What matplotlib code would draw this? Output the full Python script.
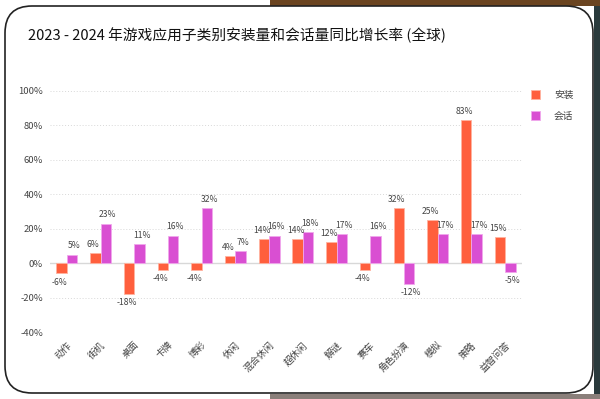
import numpy as np
import matplotlib.pyplot as plt
from matplotlib.patches import FancyBboxPatch, Rectangle

categories = ['动作', '街机', '桌面', '卡牌', '博彩', '休闲', '混合休闲', '超休闲',
              '解谜', '赛车', '角色扮演', '模拟', '策略', '益智问答']
installs = [-6, 6, -18, -4, -4, 4, 14, 14, 12, -4, 32, 25, 83, 15]
sessions = [5, 23, 11, 16, 32, 7, 16, 18, 17, 16, -12, 17, 17, -5]
series_names = ['安装', '会话']
yticks = [-40, -20, 0, 20, 40, 60, 80, 100]

plt.rcParams['font.family'] = ['Noto Sans CJK SC', 'DejaVu Sans']

fig = plt.figure(figsize=(6, 3.99), dpi=100)
fig.patch.set_facecolor('white')

# background bits outside the card
fig.patches.append(Rectangle((0.99, 0), 0.02, 1, transform=fig.transFigure,
                             facecolor='#2a3a3c', edgecolor='none', zorder=0))
fig.patches.append(Rectangle((0.45, 0.985), 0.55, 0.02, transform=fig.transFigure,
                             facecolor='#6a4420', edgecolor='none', zorder=0))
fig.patches.append(Rectangle((0.45, 0), 0.55, 0.012, transform=fig.transFigure,
                             facecolor='#8a7f7a', edgecolor='none', zorder=0))

# white card with rounded corners
card = FancyBboxPatch((5 / 600, 6 / 399), 588 / 600, 387 / 399,
                      boxstyle='round,pad=0,rounding_size=0.045',
                      transform=fig.transFigure, facecolor='white',
                      edgecolor='#222222', linewidth=1.2, zorder=1,
                      mutation_aspect=600 / 399)
fig.patches.append(card)

fig.text(28 / 600, 1 - 35 / 399, '2023 - 2024 年游戏应用子类别安装量和会话量同比增长率 (全球)',
         fontsize=10.6, color='#111111', va='center', ha='left', fontweight='medium')

ax = fig.add_axes([50 / 600, 1 - 332 / 399, 472 / 600, 241 / 399])
ax.set_facecolor('none')
ax.set_zorder(2)

x = np.arange(len(categories))
w = 0.31
red = '#ff5f3d'
purple = '#d94fd2'
b1 = ax.bar(x - w / 2, installs, w, color=red, edgecolor='#ffb3a0', linewidth=0.6,
            label=series_names[0], zorder=3)
b2 = ax.bar(x + w / 2, sessions, w, color=purple, edgecolor='#f0a8ec', linewidth=0.6,
            label=series_names[1], zorder=3)

# value labels, nudged apart a little so neighbours don't collide
for bars, vals, dx in ((b1, installs, -1.5), (b2, sessions, 1.5)):
    for bar, v in zip(bars, vals):
        cx = bar.get_x() + bar.get_width() / 2
        if v >= 0:
            ax.annotate(f'{v}%', (cx, v), xytext=(dx, 3), textcoords='offset points',
                        ha='center', va='bottom', fontsize=6.2, color='#444444')
        else:
            ax.annotate(f'{v}%', (cx, v), xytext=(dx, -3), textcoords='offset points',
                        ha='center', va='top', fontsize=6.2, color='#444444')

ax.set_xlim(-0.5, len(categories) - 0.5)
ax.set_ylim(-40, 100)
ax.set_yticks(yticks)
ax.set_yticklabels([f'{t}%' for t in yticks])
ax.set_xticks(x)
ax.set_xticklabels(categories, rotation=45, ha='right', rotation_mode='anchor')
ax.tick_params(axis='both', length=0, labelsize=6.8, labelcolor='#444444')
ax.tick_params(axis='y', pad=5)
ax.tick_params(axis='x', pad=6)

for s in ax.spines.values():
    s.set_visible(False)
ax.grid(axis='y', linestyle=(0, (1, 2)), color='#d8d8d8', linewidth=0.7, zorder=0)
ax.axhline(0, color='#d8d8d8', linewidth=1, zorder=2)

leg = ax.legend(loc='upper left', bbox_to_anchor=(1.0, 1.04), frameon=False,
                fontsize=7, handlelength=1.0, handleheight=1.0, handletextpad=1.4,
                labelspacing=1.1, labelcolor='#444444')

fig.savefig('out.png', dpi=100)
